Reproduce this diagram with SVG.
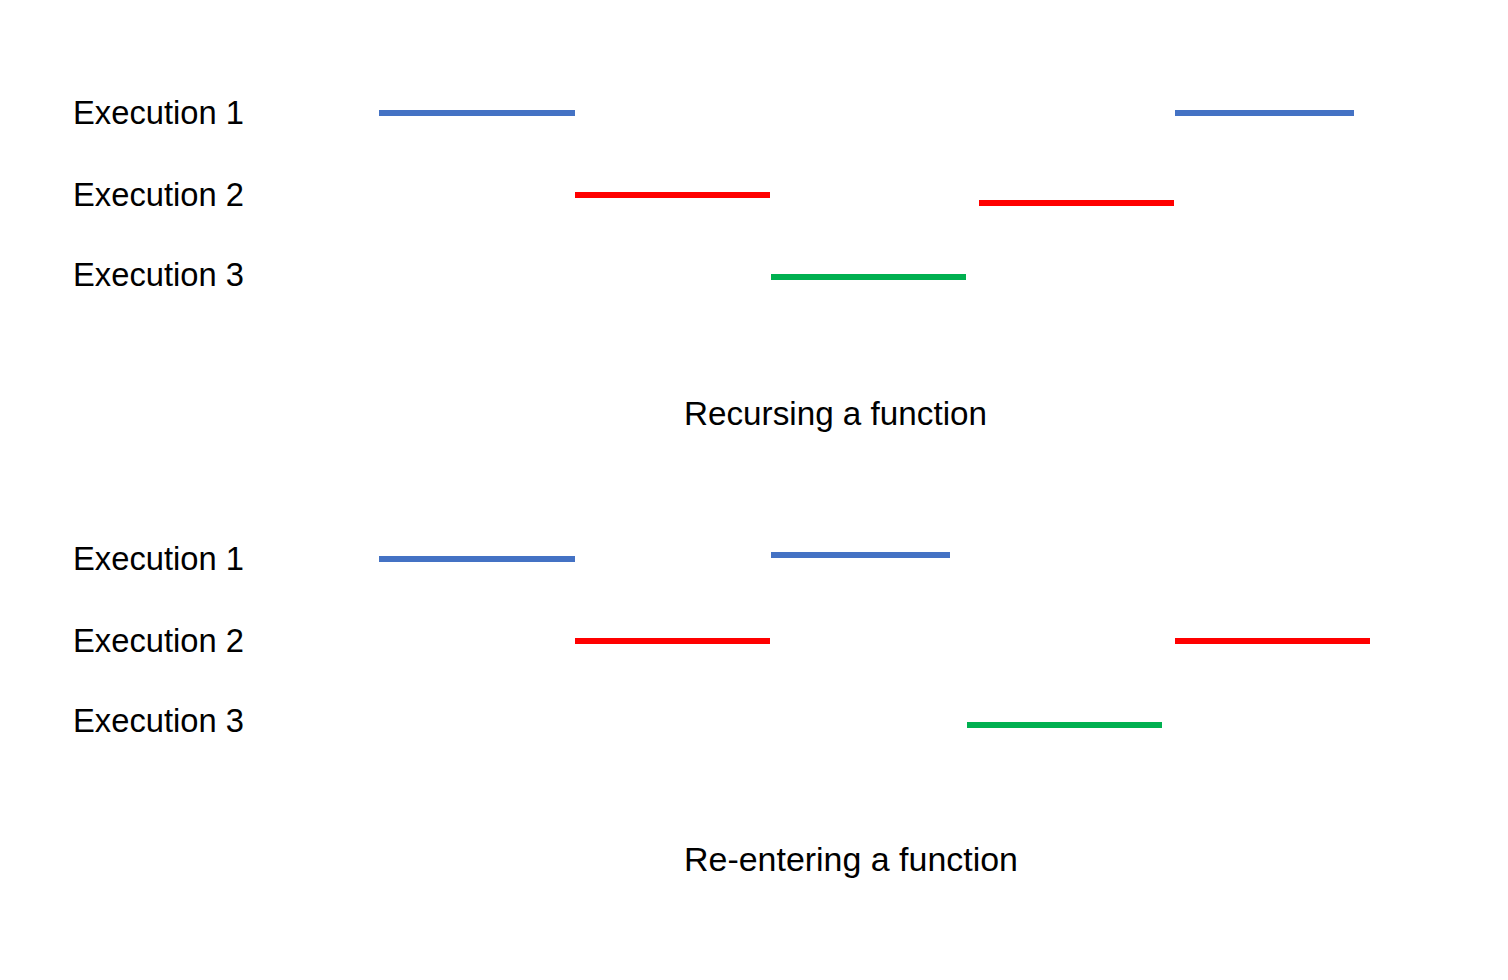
<svg xmlns="http://www.w3.org/2000/svg" width="1508" height="980" viewBox="0 0 1508 980">
<style>
.lbl{font-family:"Liberation Sans",Arial,sans-serif;font-size:33px;fill:#000}
.blue{fill:#4472C4}
.red{fill:#FF0000}
.green{fill:#00B050}
</style>
<rect width="1508" height="980" fill="#fff"/>
<g id="labels-top">
<text class="lbl" x="73" y="123.5" textLength="171" lengthAdjust="spacingAndGlyphs">Execution 1</text>
<text class="lbl" x="73" y="205.5" textLength="171" lengthAdjust="spacingAndGlyphs">Execution 2</text>
<text class="lbl" x="73" y="285.5" textLength="171" lengthAdjust="spacingAndGlyphs">Execution 3</text>
<text class="lbl" x="684" y="425" textLength="303" lengthAdjust="spacingAndGlyphs">Recursing a function</text>
</g>
<g id="bars-top">
<rect class="blue" x="379" y="110" width="196" height="6"/>
<rect class="red" x="575" y="192" width="195" height="6"/>
<rect class="green" x="771" y="274" width="195" height="6"/>
<rect class="red" x="979" y="200" width="195" height="6"/>
<rect class="blue" x="1175" y="110" width="179" height="6"/>
</g>
<g id="labels-bottom">
<text class="lbl" x="73" y="569.5" textLength="171" lengthAdjust="spacingAndGlyphs">Execution 1</text>
<text class="lbl" x="73" y="651.5" textLength="171" lengthAdjust="spacingAndGlyphs">Execution 2</text>
<text class="lbl" x="73" y="731.5" textLength="171" lengthAdjust="spacingAndGlyphs">Execution 3</text>
<text class="lbl" x="684" y="871" textLength="334" lengthAdjust="spacingAndGlyphs">Re-entering a function</text>
</g>
<g id="bars-bottom">
<rect class="blue" x="379" y="556" width="196" height="6"/>
<rect class="blue" x="771" y="552" width="179" height="6"/>
<rect class="red" x="575" y="638" width="195" height="6"/>
<rect class="red" x="1175" y="638" width="195" height="6"/>
<rect class="green" x="967" y="722" width="195" height="6"/>
</g>
</svg>
